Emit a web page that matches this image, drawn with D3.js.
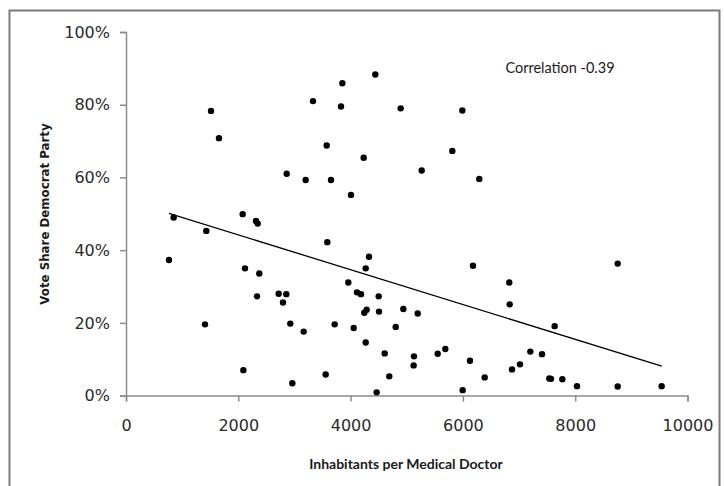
<!DOCTYPE html>
<html><head><meta charset="utf-8">
<script src="https://cdn.jsdelivr.net/npm/d3@7"></script>
<style>
html,body{margin:0;padding:0;background:#fff;}
svg{display:block;}
</style></head>
<body>
<svg id="chart" width="724" height="486"></svg>
<script>
// Inhabitants per medical doctor (x) and Democrat vote share (y)
const inhabitantsPerDoctor = [
  1514,1656,3330,2862,3200,2078,849,2315,2345,1430,765,2119,2374,2333,2719,2855,2796,1407,2926,3164,2090,2962,
  3853,4440,3829,4892,5990,3574,4233,5812,5266,3651,6292,4007,
  3585,4328,4269,6180,3959,4114,4185,4500,4286,4244,4506,4939,5195,3716,4055,4803,4269,4607,5129,5551,5687,6126,5123,3556,4689,6388,4464,5996,
  8757,6826,6833,7634,7201,7409,7017,6874,7539,7569,7771,8032,8757,9540
];
const voteShareDemocrat = [
  0.783,0.708,0.810,0.610,0.593,0.499,0.490,0.480,0.473,0.453,0.373,0.350,0.336,0.273,0.280,0.279,0.256,0.196,0.198,0.176,0.070,0.034,
  0.859,0.883,0.795,0.790,0.784,0.688,0.654,0.673,0.619,0.593,0.596,0.552,
  0.422,0.382,0.350,0.357,0.311,0.284,0.279,0.273,0.236,0.228,0.231,0.238,0.226,0.196,0.186,0.189,0.146,0.116,0.108,0.115,0.128,0.096,0.083,0.058,0.053,0.050,0.009,0.015,
  0.363,0.311,0.251,0.191,0.121,0.114,0.086,0.072,0.047,0.046,0.045,0.026,0.025,0.026
];
const xTicks = [0,2000,4000,6000,8000,10000];
const yTicks = [0,0.2,0.4,0.6,0.8,1.0];
const xTitle = "Inhabitants per Medical Doctor";
const yTitle = "Vote Share Democrat Party";
const correlationLabel = "Correlation -0.39";

const data = inhabitantsPerDoctor.map((x,i)=>({x, y: voteShareDemocrat[i]}));

const svg = d3.select("#chart");
// outer frame
svg.append("rect").attr("x",9.5).attr("y",10.5).attr("width",710).attr("height",490)
  .attr("fill","#fff").attr("stroke","#7a7a7a").attr("stroke-width",2);

const x = d3.scaleLinear().domain([0,10000]).range([126,687.5]);
const y = d3.scaleLinear().domain([0,1]).range([395.6,32]);

const fontTick = "'DejaVu Sans', sans-serif";

const gx = svg.append("g").attr("transform",`translate(0,${y(0)})`)
  .call(d3.axisBottom(x).tickValues(xTicks).tickFormat(d3.format("d")).tickSize(6).tickPadding(18));
const gy = svg.append("g").attr("transform",`translate(${x(0)},0)`)
  .call(d3.axisLeft(y).tickValues(yTicks).tickFormat(d3.format(".0%")).tickSize(6).tickPadding(10));
[gx,gy].forEach(g=>{
  g.select(".domain").attr("stroke","#8c8c8c").attr("stroke-width",1.5);
  g.selectAll(".tick line").attr("stroke","#8c8c8c").attr("stroke-width",1.5);
  g.selectAll(".tick text").attr("fill","#2a2a2a").style("font-family",fontTick).style("font-size","16px");
});

// regression line from data
const mx = d3.mean(data,d=>d.x), my = d3.mean(data,d=>d.y);
const sxy = d3.sum(data,d=>(d.x-mx)*(d.y-my)), sxx = d3.sum(data,d=>(d.x-mx)*(d.x-mx));
const slope = sxy/sxx, intercept = my - slope*mx;
const [x0,x1] = d3.extent(data,d=>d.x);
svg.append("line")
  .attr("x1",x(x0)).attr("y1",y(intercept+slope*x0))
  .attr("x2",x(x1)).attr("y2",y(intercept+slope*x1))
  .attr("stroke","#000").attr("stroke-width",1.3);

svg.append("g").selectAll("circle").data(data).join("circle")
  .attr("cx",d=>x(d.x)).attr("cy",d=>y(d.y)).attr("r",3.2).attr("fill","#000");

svg.append("text").attr("x",560).attr("y",73).attr("text-anchor","middle")
  .style("font-family","Lato, sans-serif").style("font-size","14.5px").attr("fill","#1a1a1a")
  .text(correlationLabel);

svg.append("text").attr("x",406).attr("y",469).attr("text-anchor","middle")
  .style("font-family","Lato, sans-serif").style("font-size","14px").style("font-weight","bold").attr("fill","#1a1a1a")
  .text(xTitle);

svg.append("text").attr("transform","translate(49,214) rotate(-90)").attr("text-anchor","middle")
  .style("font-family","'DejaVu Sans', sans-serif").style("font-size","11.8px").style("font-weight","bold").attr("fill","#1a1a1a")
  .text(yTitle);
</script>
</body></html>
